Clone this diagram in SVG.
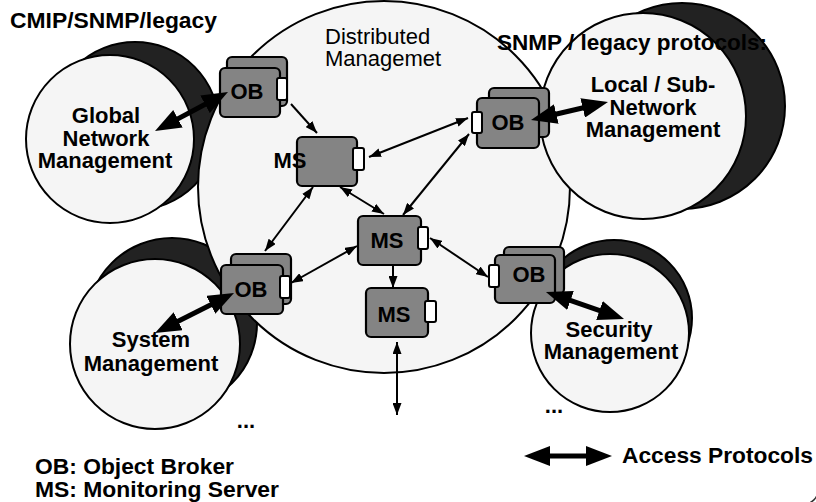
<svg xmlns="http://www.w3.org/2000/svg" width="816" height="502" viewBox="0 0 816 502">
<style>
  .shadow { fill: #222; stroke: #000; stroke-width: 2; }
  .disc { fill: #f5f5f5; stroke: #000; stroke-width: 2; }
  .box { fill: #848484; stroke: #000; stroke-width: 2.2; }
  .port { fill: #fff; stroke: #000; stroke-width: 2; }
  .lbl { font-family: "Liberation Sans", Arial, sans-serif; font-weight: bold; font-size: 22px; fill: #000; }
  .mid { text-anchor: middle; }
  .reg { font-family: "Liberation Sans", Arial, sans-serif; font-size: 22px; fill: #000; }
  .thin { stroke: #000; stroke-width: 2; fill: none; }
  .thick { stroke: #000; stroke-width: 5; fill: none; }
</style>
<defs>
  <marker id="ah" viewBox="0 0 12 9" refX="12" refY="4.5" markerWidth="12" markerHeight="9" markerUnits="userSpaceOnUse" orient="auto-start-reverse">
    <path d="M0,0 L12,4.5 L0,9 z" fill="#000"/>
  </marker>
  <marker id="AH" viewBox="0 0 26 20" refX="14" refY="10" markerWidth="26" markerHeight="20" markerUnits="userSpaceOnUse" orient="auto-start-reverse">
    <path d="M0,0 L26,10 L0,20 z" fill="#000"/>
  </marker>
</defs>

<rect x="-12" y="-12" width="830" height="516" rx="14" fill="none" stroke="#333" stroke-width="1.5"/>

<!-- shadows behind the central circle -->
<circle class="shadow" cx="135" cy="126" r="84"/>
<circle class="shadow" cx="172" cy="323" r="85"/>

<g id="distributed-management">
  <circle class="disc" cx="384" cy="187" r="186"/>
  <text class="reg" x="325" y="44">Distributed</text>
  <text class="reg" x="325" y="66">Managemet</text>
</g>

<g id="local-subnetwork-management">
  <circle class="shadow" cx="682" cy="106" r="103"/>
  <circle class="disc" cx="643" cy="116" r="103"/>
  <text class="lbl mid" x="653" y="92">Local / Sub-</text>
  <text class="lbl mid" x="653" y="115">Network</text>
  <text class="lbl mid" x="653" y="137">Management</text>
</g>

<g id="security-management">
  <circle class="shadow" cx="614" cy="318" r="78"/>
  <circle class="disc" cx="610" cy="333" r="79"/>
  <text class="lbl mid" x="609" y="337">Security</text>
  <text class="lbl mid" x="611" y="359">Management</text>
</g>

<g id="global-network-management">
  <circle class="disc" cx="110" cy="139" r="84"/>
  <text class="lbl mid" x="106" y="123">Global</text>
  <text class="lbl mid" x="106" y="146">Network</text>
  <text class="lbl mid" x="105" y="168">Management</text>
</g>

<g id="system-management">
  <circle class="disc" cx="155" cy="344" r="85"/>
  <text class="lbl mid" x="151" y="347">System</text>
  <text class="lbl mid" x="151" y="371">Management</text>
</g>

<g id="ob-global">
  <rect class="box" x="227" y="57" width="60" height="49" rx="5"/>
  <rect class="box" x="220" y="68" width="60" height="49" rx="5"/>
  <rect class="port" x="277" y="78" width="10" height="22" rx="2"/>
  <text class="lbl mid" x="247" y="99">OB</text>
</g>

<g id="ob-local">
  <rect class="box" x="489" y="88" width="60" height="49" rx="5"/>
  <rect class="box" x="477" y="98" width="62" height="50" rx="5"/>
  <rect class="port" x="472" y="112" width="10" height="21" rx="2"/>
  <text class="lbl mid" x="508" y="130">OB</text>
</g>

<g id="ob-system">
  <rect class="box" x="231" y="254" width="60" height="50" rx="5"/>
  <rect class="box" x="221" y="265" width="62" height="49" rx="5"/>
  <rect class="port" x="280" y="276" width="10" height="22" rx="2"/>
  <text class="lbl mid" x="251" y="297">OB</text>
</g>

<g id="ob-security">
  <rect class="box" x="504" y="247" width="60" height="47" rx="5"/>
  <rect class="box" x="495" y="255" width="60" height="48" rx="5"/>
  <rect class="port" x="489" y="265" width="10" height="22" rx="2"/>
  <text class="lbl mid" x="529" y="282">OB</text>
</g>

<g id="ms-upper">
  <rect class="box" x="297" y="137" width="60" height="49" rx="5"/>
  <rect class="port" x="353" y="148" width="11" height="22" rx="2"/>
  <text class="lbl mid" x="290" y="168">MS</text>
</g>

<g id="ms-center">
  <rect class="box" x="358" y="216" width="63" height="49" rx="5"/>
  <rect class="port" x="418" y="227" width="10" height="22" rx="2"/>
  <text class="lbl mid" x="387" y="248">MS</text>
</g>

<g id="ms-lower">
  <rect class="box" x="366" y="288" width="62" height="49" rx="5"/>
  <rect class="port" x="425" y="301" width="11" height="21" rx="2"/>
  <text class="lbl mid" x="394" y="322">MS</text>
</g>

<g id="connectors">
  <line class="thin" x1="291" y1="104" x2="317" y2="133" marker-end="url(#ah)"/>
  <line class="thin" x1="369" y1="157" x2="468" y2="118" marker-start="url(#ah)" marker-end="url(#ah)"/>
  <line class="thin" x1="403" y1="215" x2="469" y2="134" marker-start="url(#ah)" marker-end="url(#ah)"/>
  <line class="thin" x1="313" y1="187" x2="265" y2="251" marker-start="url(#ah)" marker-end="url(#ah)"/>
  <line class="thin" x1="340" y1="187" x2="384" y2="214" marker-start="url(#ah)" marker-end="url(#ah)"/>
  <line class="thin" x1="357" y1="246" x2="291" y2="283" marker-start="url(#ah)" marker-end="url(#ah)"/>
  <line class="thin" x1="430" y1="238" x2="488" y2="277" marker-start="url(#ah)" marker-end="url(#ah)"/>
  <line class="thin" x1="393" y1="265" x2="393" y2="288" marker-end="url(#ah)"/>
  <line class="thin" x1="397" y1="342" x2="397" y2="415" marker-start="url(#ah)" marker-end="url(#ah)"/>

  <line class="thick" x1="165.6" y1="125.4" x2="217.4" y2="97.7" marker-start="url(#AH)" marker-end="url(#AH)"/>
  <line class="thick" x1="542.7" y1="117.3" x2="596.3" y2="104.7" marker-start="url(#AH)" marker-end="url(#AH)"/>
  <line class="thick" x1="223.3" y1="298.4" x2="165.7" y2="327.6" marker-start="url(#AH)" marker-end="url(#AH)"/>
  <line class="thick" x1="557.3" y1="295.9" x2="612.7" y2="315.1" marker-start="url(#AH)" marker-end="url(#AH)"/>
  <line class="thick" x1="536" y1="456" x2="600" y2="456" marker-start="url(#AH)" marker-end="url(#AH)"/>
</g>

<text class="lbl" x="10" y="28" textLength="207" lengthAdjust="spacingAndGlyphs">CMIP/SNMP/legacy</text>
<text class="lbl" x="497" y="50" textLength="270" lengthAdjust="spacingAndGlyphs">SNMP / legacy protocols:</text>
<text class="lbl mid" x="246" y="428">...</text>
<text class="lbl mid" x="554" y="413">...</text>
<text class="lbl" x="35" y="474" textLength="199" lengthAdjust="spacingAndGlyphs">OB: Object Broker</text>
<text class="lbl" x="35" y="497" textLength="244" lengthAdjust="spacingAndGlyphs">MS: Monitoring Server</text>
<text class="lbl" x="622" y="463" textLength="191" lengthAdjust="spacingAndGlyphs">Access Protocols</text>
</svg>
